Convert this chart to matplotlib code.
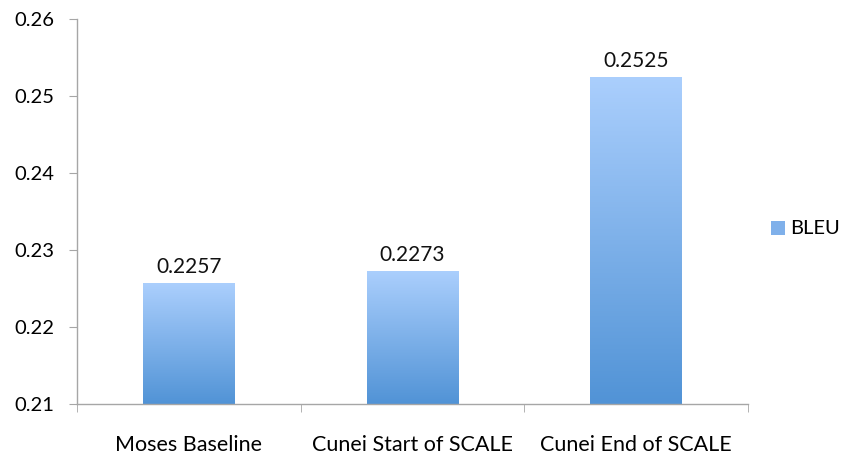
import numpy as np
import matplotlib.pyplot as plt
from matplotlib.colors import LinearSegmentedColormap
from matplotlib.patches import Rectangle

categories = ["Moses Baseline", "Cunei Start of SCALE", "Cunei End of SCALE"]
bleu = [0.2257, 0.2273, 0.2525]
yticks = [0.21, 0.22, 0.23, 0.24, 0.25, 0.26]

plt.rcParams['font.family'] = ['Lato', 'DejaVu Sans']
grad = LinearSegmentedColormap.from_list("bar", ["#5193d6", "#abcffd"])

fig = plt.figure(figsize=(8.43, 4.57), dpi=100)
ax = fig.add_axes([0.0913, 0.116, 0.796, 0.842])

x = np.arange(len(categories))
bars = ax.bar(x, bleu, width=0.41, bottom=0, color="none", zorder=2)

gimg = np.linspace(0, 1, 256).reshape(-1, 1)
for b, v in zip(bars, bleu):
    x0 = b.get_x()
    w = b.get_width()
    im = ax.imshow(gimg, cmap=grad, origin="lower", aspect="auto",
                   extent=[x0, x0 + w, 0.21, v], zorder=2)
    im.set_clip_path(b)
    ax.text(x0 + w / 2, v + 0.0008, f"{v:.4f}", ha="center", va="bottom",
            fontsize=15, color="#111111")
ax.set_xlim(-0.5, len(categories) - 0.5)
ax.set_ylim(0.21, 0.26)

for s in ["top", "right"]:
    ax.spines[s].set_visible(False)
for s in ["left", "bottom"]:
    ax.spines[s].set_color("#a6a6a6")
    ax.spines[s].set_linewidth(1.0)

ax.set_yticks(yticks)
ax.set_yticklabels([f"{t:.2f}" for t in yticks], fontsize=14.5)
ax.set_xticks(x)
ax.set_xticklabels(categories, fontsize=15.5)
ax.tick_params(axis="x", length=0, pad=22)
ax.tick_params(axis="y", length=6, color="#a6a6a6", pad=10)
# category boundary ticks
ax.set_xticks(np.arange(-0.5, len(categories)), minor=True)
ax.tick_params(axis="x", which="minor", length=6, color="#a6a6a6")

# legend
lx, ly = 0.915, 0.485
fig.patches.append(Rectangle((lx, ly), 0.0165, 0.031, transform=fig.transFigure,
                             facecolor="#7fb0ea", edgecolor="none"))
fig.text(lx + 0.022, ly + 0.0155, "BLEU", fontsize=14.5, va="center", ha="left")

fig.savefig("out.png", dpi=100)
